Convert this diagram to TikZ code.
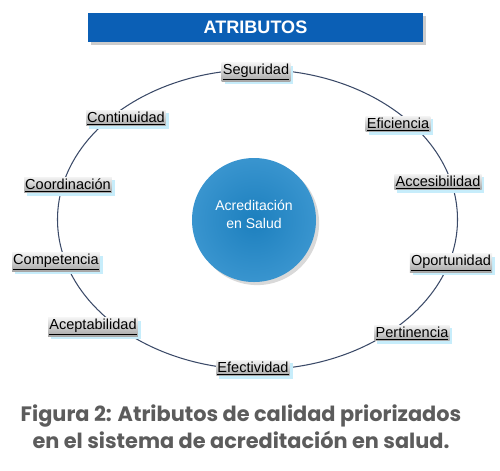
\documentclass[tikz,border=0pt]{standalone}
\usepackage{fontspec}
\setmainfont{Liberation Sans}
\newfontfamily\capfont{Poppins}
\usetikzlibrary{shadows}
\definecolor{barblue}{HTML}{0B5FB5}
\definecolor{ballblue}{HTML}{1E86C8}
\definecolor{rimline}{HTML}{3B4A68}
\definecolor{capgray}{HTML}{5C5C5C}

\begin{document}
\begin{tikzpicture}[x=0.03cm, y=-0.03cm,
		attr/.style={font=\fontsize{12.4}{14}\selectfont, top color=gray!10, bottom color=gray!70, inner sep=1pt,
			drop shadow={fill=cyan!22, opacity=1, shadow xshift=2.5pt, shadow yshift=-2.5pt}}]
		\useasboundingbox (0,0) rectangle (500,470);
		
		% Title bar
		\node (title) [fill=barblue, minimum width=10.05cm, minimum height=0.87cm, text=white,
			font=\bfseries\fontsize{15.4}{18}\selectfont, drop shadow={opacity=0.4}] at (255.5,27.5) {ATRIBUTOS};
		
		% Outer ring
		\draw[rimline, line width=0.9pt] (257.5,219.5) ellipse [x radius=200, y radius=150];
		
		% Centre ball
		\node (core) [circle, minimum size=3.72cm, inner color=ballblue!95!black, outer color=ballblue!88!white,
			drop shadow={opacity=0.3}] at (254,220) {};
		\node (corelbl) [text=white, align=center, font=\fontsize{12}{16}\selectfont] at (254,214.5) {Acreditación\\en Salud};
		
		% Attributes (clockwise from top)
		\node (seg) [attr] at (256,72) {\underline{Seguridad}};
		\node (efi) [attr] at (398,124) {\underline{Eficiencia}};
		\node (acc) [attr] at (438,182) {\underline{Accesibilidad}};
		\node (opo) [attr] at (451,263) {\underline{Oportunidad}};
		\node (per) [attr] at (412,333) {\underline{Pertinencia}};
		\node (efe) [attr] at (253,368) {\underline{Efectividad}};
		\node (ace) [attr] at (93,327) {\underline{Aceptabilidad}};
		\node (com) [attr] at (56,262) {\underline{Competencia}};
		\node (coo) [attr] at (68,185) {\underline{Coordinación}};
		\node (con) [attr] at (126,118) {\underline{Continuidad}};
		
		% Caption
		\node (caption) [text=capgray, font=\capfont\bfseries\fontsize{17.8}{23}\selectfont, align=center] at (241,426.5)
			{Figura 2: Atributos de calidad priorizados\\en el sistema de acreditación en salud.};
	\end{tikzpicture}
\end{document}
